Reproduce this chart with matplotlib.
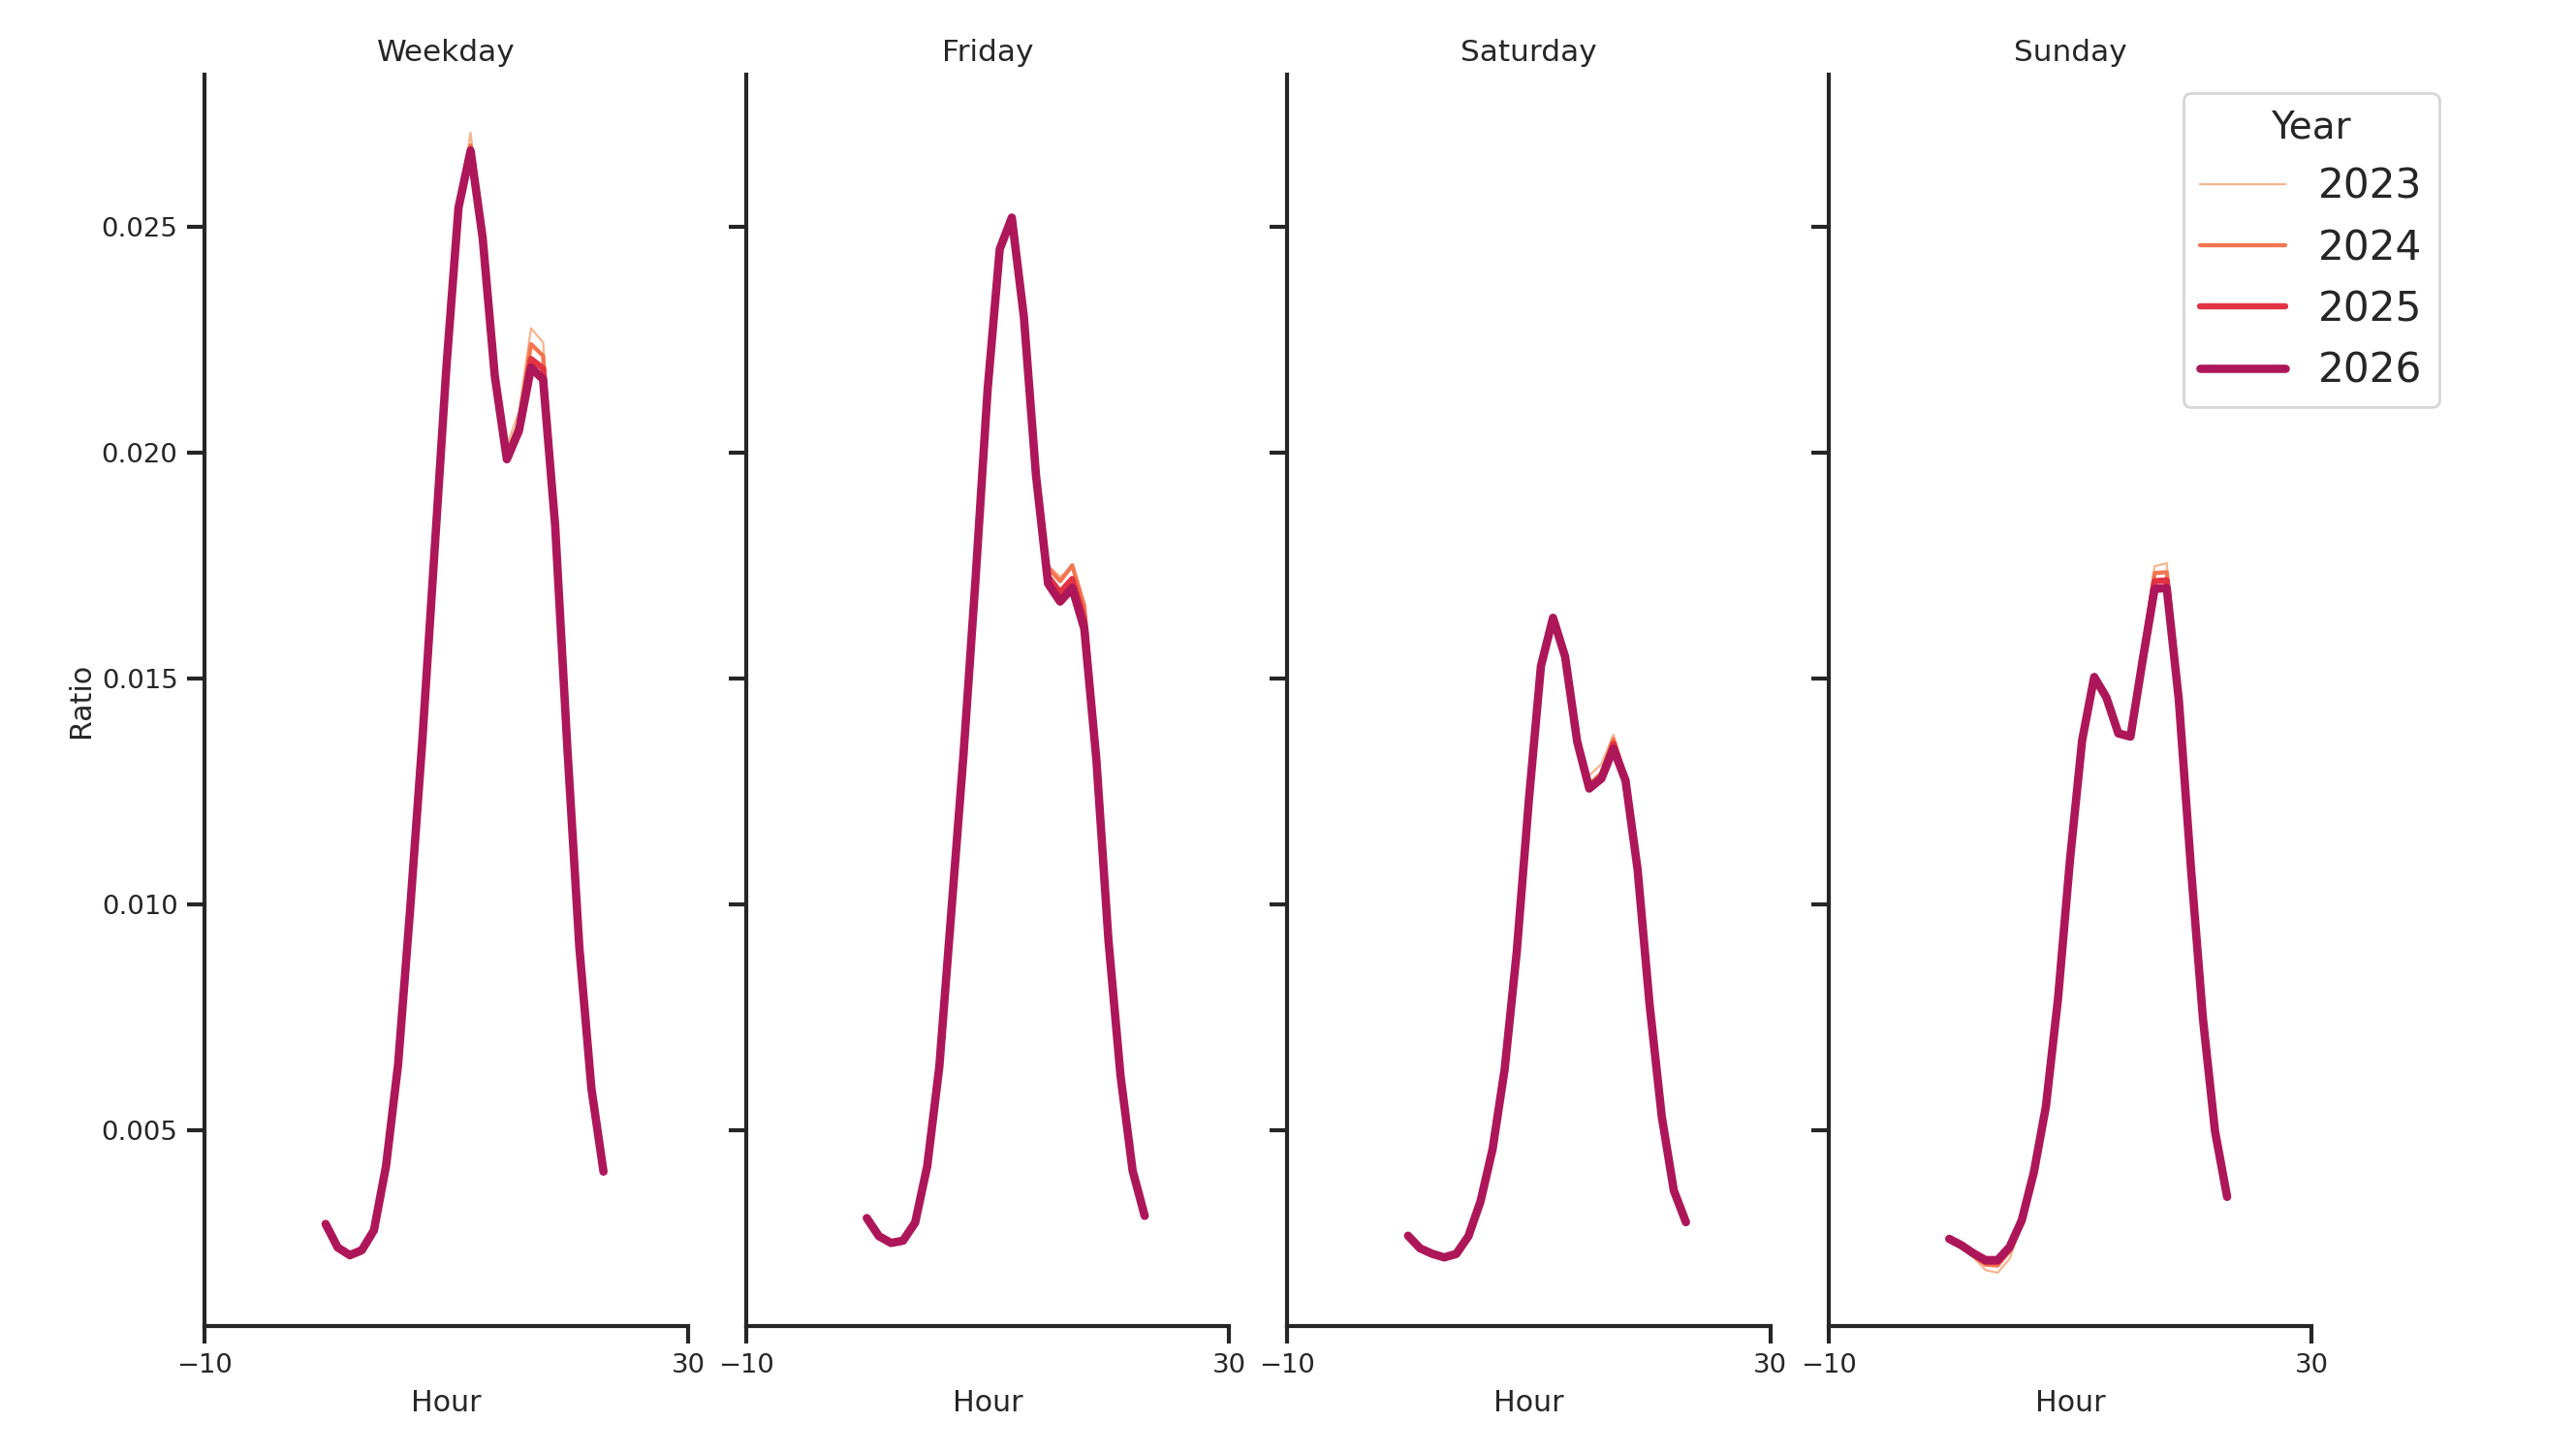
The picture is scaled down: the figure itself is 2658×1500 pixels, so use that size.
import matplotlib
matplotlib.use("Agg")
import matplotlib.pyplot as plt

# ---------------- data ----------------
hours = list(range(24))
years = [2023, 2024, 2025, 2026]
days = ["Weekday", "Friday", "Saturday", "Sunday"]

weekday_2026 = [0.00292, 0.00240, 0.00223, 0.00234, 0.00278, 0.00420, 0.00645, 0.00990,
                0.01360, 0.01775, 0.02190, 0.02542, 0.02668, 0.02475, 0.02170, 0.01985,
                0.02048, 0.02188, 0.02162, 0.01838, 0.01350, 0.00905, 0.00592, 0.00408]
weekday_2025 = [0.00292, 0.00240, 0.00222, 0.00233, 0.00278, 0.00420, 0.00645, 0.00990,
                0.01360, 0.01775, 0.02190, 0.02542, 0.02672, 0.02475, 0.02172, 0.01988,
                0.02055, 0.02207, 0.02186, 0.01840, 0.01350, 0.00905, 0.00592, 0.00408]
weekday_2024 = [0.00291, 0.00239, 0.00220, 0.00231, 0.00277, 0.00419, 0.00645, 0.00990,
                0.01360, 0.01775, 0.02190, 0.02541, 0.02680, 0.02476, 0.02175, 0.01995,
                0.02065, 0.02240, 0.02214, 0.01845, 0.01352, 0.00906, 0.00592, 0.00408]
weekday_2023 = [0.00290, 0.00237, 0.00215, 0.00226, 0.00274, 0.00418, 0.00645, 0.00990,
                0.01360, 0.01775, 0.02190, 0.02540, 0.02708, 0.02478, 0.02180, 0.02015,
                0.02090, 0.02275, 0.02244, 0.01850, 0.01355, 0.00907, 0.00593, 0.00408]

friday_2026 = [0.00305, 0.00265, 0.00250, 0.00255, 0.00295, 0.00420, 0.00640, 0.00985,
               0.01330, 0.01720, 0.02140, 0.02450, 0.02520, 0.02300, 0.01950, 0.01710,
               0.01670, 0.01700, 0.01610, 0.01320, 0.00920, 0.00620, 0.00410, 0.00310]
friday_2025 = [0.00305, 0.00265, 0.00250, 0.00255, 0.00295, 0.00420, 0.00640, 0.00985,
               0.01330, 0.01720, 0.02140, 0.02448, 0.02520, 0.02300, 0.01955, 0.01725,
               0.01690, 0.01720, 0.01630, 0.01325, 0.00920, 0.00620, 0.00410, 0.00310]
friday_2024 = [0.00304, 0.00264, 0.00249, 0.00254, 0.00294, 0.00420, 0.00640, 0.00985,
               0.01330, 0.01720, 0.02140, 0.02445, 0.02518, 0.02302, 0.01960, 0.01745,
               0.01715, 0.01750, 0.01660, 0.01330, 0.00922, 0.00620, 0.00410, 0.00310]
friday_2023 = [0.00303, 0.00263, 0.00248, 0.00253, 0.00293, 0.00419, 0.00640, 0.00985,
               0.01330, 0.01720, 0.02138, 0.02440, 0.02515, 0.02305, 0.01962, 0.01750,
               0.01725, 0.01745, 0.01665, 0.01332, 0.00922, 0.00620, 0.00410, 0.00310]

saturday_2026 = [0.00266, 0.00238, 0.00226, 0.00218, 0.00226, 0.00265, 0.00342, 0.00458,
                 0.00635, 0.00895, 0.01230, 0.01527, 0.01634, 0.01548, 0.01360, 0.01256,
                 0.01278, 0.01344, 0.01274, 0.01077, 0.00776, 0.00530, 0.00366, 0.00296]
saturday_2025 = [0.00266, 0.00238, 0.00225, 0.00217, 0.00224, 0.00263, 0.00341, 0.00458,
                 0.00635, 0.00895, 0.01230, 0.01527, 0.01634, 0.01548, 0.01362, 0.01260,
                 0.01282, 0.01355, 0.01276, 0.01078, 0.00776, 0.00530, 0.00366, 0.00296]
saturday_2024 = [0.00265, 0.00237, 0.00224, 0.00215, 0.00222, 0.00260, 0.00340, 0.00457,
                 0.00635, 0.00895, 0.01230, 0.01526, 0.01634, 0.01549, 0.01365, 0.01265,
                 0.01290, 0.01365, 0.01280, 0.01079, 0.00777, 0.00530, 0.00366, 0.00296]
saturday_2023 = [0.00265, 0.00236, 0.00222, 0.00212, 0.00218, 0.00255, 0.00337, 0.00455,
                 0.00634, 0.00895, 0.01230, 0.01525, 0.01636, 0.01550, 0.01370, 0.01285,
                 0.01310, 0.01375, 0.01285, 0.01080, 0.00778, 0.00531, 0.00366, 0.00296]

sunday_2026 = [0.00259, 0.00245, 0.00227, 0.00212, 0.00212, 0.00241, 0.00300, 0.00406,
               0.00552, 0.00790, 0.01100, 0.01363, 0.01503, 0.01458, 0.01378, 0.01371,
               0.01539, 0.01698, 0.01700, 0.01453, 0.01082, 0.00746, 0.00497, 0.00352]
sunday_2025 = [0.00259, 0.00244, 0.00225, 0.00208, 0.00208, 0.00238, 0.00299, 0.00406,
               0.00552, 0.00790, 0.01100, 0.01363, 0.01504, 0.01460, 0.01379, 0.01372,
               0.01545, 0.01715, 0.01717, 0.01455, 0.01083, 0.00746, 0.00497, 0.00352]
sunday_2024 = [0.00258, 0.00242, 0.00222, 0.00202, 0.00200, 0.00232, 0.00297, 0.00405,
               0.00552, 0.00790, 0.01100, 0.01364, 0.01506, 0.01463, 0.01381, 0.01374,
               0.01552, 0.01733, 0.01735, 0.01458, 0.01084, 0.00747, 0.00497, 0.00352]
sunday_2023 = [0.00257, 0.00239, 0.00218, 0.00190, 0.00184, 0.00215, 0.00292, 0.00404,
               0.00552, 0.00790, 0.01100, 0.01365, 0.01508, 0.01470, 0.01385, 0.01378,
               0.01560, 0.01748, 0.01755, 0.01462, 0.01085, 0.00748, 0.00498, 0.00352]

series = {
    "Weekday": [weekday_2023, weekday_2024, weekday_2025, weekday_2026],
    "Friday": [friday_2023, friday_2024, friday_2025, friday_2026],
    "Saturday": [saturday_2023, saturday_2024, saturday_2025, saturday_2026],
    "Sunday": [sunday_2023, sunday_2024, sunday_2025, sunday_2026],
}

# ---------------- style ----------------
colors = ["#f6b48f", "#f37651", "#e13342", "#ad1759"]
widths = [0.8, 1.55, 2.3, 3.1]
ink = "#262626"

plt.rcParams.update({
    "font.family": ["DejaVu Sans"],
    "text.color": ink,
    "axes.labelcolor": ink,
    "axes.edgecolor": ink,
    "xtick.color": ink,
    "ytick.color": ink,
    "axes.linewidth": 1.5,
    "xtick.major.width": 1.5,
    "ytick.major.width": 1.5,
    "xtick.major.size": 6.5,
    "ytick.major.size": 6.5,
    "xtick.labelsize": 9.9,
    "ytick.labelsize": 9.9,
    "lines.solid_capstyle": "round",
    "lines.solid_joinstyle": "round",
})

fig, axes = plt.subplots(1, 4, figsize=(13.29, 7.5), dpi=200, sharey=True)
fig.subplots_adjust(left=0.0795, right=0.8974, top=0.9485, bottom=0.088, wspace=0.1199)

handles = []
for ax, day in zip(axes, days):
    for yr, vals, c, lw in zip(years, series[day], colors, widths):
        ln, = ax.plot(hours, vals, color=c, lw=lw, label=str(yr))
        if day == "Sunday":
            handles.append(ln)
    ax.set_title(day, fontsize=11.2, color=ink, pad=5)
    ax.set_xlim(-10, 30)
    ax.set_xticks([-10, 30])
    ax.set_xlabel("Hour", fontsize=10.8)
    ax.spines["top"].set_visible(False)
    ax.spines["right"].set_visible(False)

axes[0].set_ylim(0.00066, 0.02836)
axes[0].set_yticks([0.005, 0.010, 0.015, 0.020, 0.025])
axes[0].set_ylabel("Ratio", fontsize=10.8, labelpad=2.5)
for ax in axes[1:]:
    ax.tick_params(labelleft=False)

leg = fig.legend(handles=handles, labels=[str(y) for y in years], title="Year",
                 loc="upper right", bbox_to_anchor=(0.9468, 0.936), borderaxespad=0,
                 fontsize=15.2, title_fontsize=14, handletextpad=0.8, handlelength=2.1,
                 labelspacing=0.5, frameon=True, fancybox=True, edgecolor="0.8")

fig.savefig("out.png", dpi=200)
